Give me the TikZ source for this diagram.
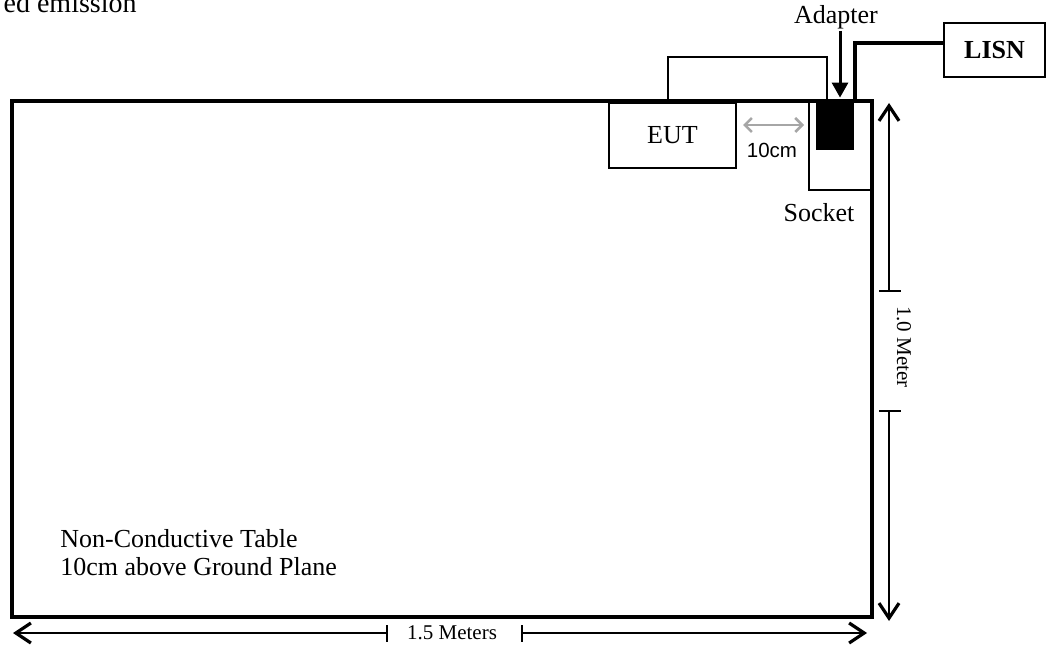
\documentclass[tikz,border=0pt]{standalone}
\usepackage{fontspec}
\setmainfont{Liberation Serif}
\newfontfamily\arialfont{Liberation Sans}
\usepackage{tikz}
\usetikzlibrary{positioning, arrows.meta}

\begin{document}
\begin{tikzpicture}[
    x=0.5pt, y=-0.5pt,
    every node/.style={inner sep=0pt, font=\fontsize{13}{14}\selectfont},
    box/.style={draw, line width=1pt},
    tbl/.style={draw, line width=1.75pt},
    cable/.style={draw, line width=1pt},
    cord/.style={draw, line width=1.75pt},
    dimline/.style={draw, line width=1pt},
    dimarrow/.style={draw, line width=1pt, -{Straight Barb[length=7.5pt,width=10pt,line width=1.6pt]}},
    adarrow/.style={draw, line width=1.5pt, -{Triangle[length=7.5pt,width=8pt]}},
    gaparrow/.style={draw, line width=1.25pt, color=gray!70, {Straight Barb[length=3.5pt,width=7pt]}-{Straight Barb[length=3.5pt,width=7pt]}},
    small/.style={font=\fontsize{10.5}{12}\selectfont}
]
\useasboundingbox (0,0) rectangle (1047,646);

% title line, cut at the top of the page
\node (title) [anchor=base east, font=\fontsize{14}{16}\selectfont] at (137,13) {ed emission};

% equipment
\node (socket) [box, minimum width=31.5pt, minimum height=44.5pt] at (840.5,145.5) {};
\node (table) [tbl, minimum width=430pt, minimum height=258pt] at (442,359) {};
\node (eut) [box, minimum width=63.5pt, minimum height=32.5pt] at (672.5,135.5) {EUT};
\node (adapter) [fill=black, minimum width=19pt, minimum height=23.5pt] at (835,126.5) {};
\node (lisn) [box, minimum width=50.5pt, minimum height=27pt, font=\fontsize{13}{14}\selectfont\bfseries] at (994.5,50) {LISN};

% cables
\draw[cable] ([xshift=-2.25pt]eut.north) -- ++(0,-45) -| ([xshift=-4pt]adapter.north);
\draw[cord] ([xshift=10pt,yshift=1pt]adapter.north) |- ([yshift=3.5pt]lisn.west);

% labels
\node (adlbl) [anchor=base] at (836,24) {Adapter};
\draw[adarrow] ([xshift=2pt,yshift=-0.5pt]adlbl.south) -- ([xshift=2.5pt,yshift=2.5pt]adapter.north);
\node (socketlbl) [anchor=base] at (819,222) {Socket};
\draw[gaparrow] ([xshift=3pt,yshift=5.25pt]eut.east) -- ([xshift=-2pt,yshift=5.25pt]eut.east -| socket.west);
\node (gaplbl) [anchor=base, font=\arialfont\fontsize{10.25}{12}\selectfont] at (772,158) {10cm};
\node (tablelbl) [anchor=north west, align=left] at (60,529) {Non-Conductive Table\\10cm above Ground Plane};

% width of the table
\coordinate (wa) at (13,633);
\coordinate (wl) at (387,633);
\coordinate (wr) at (522,633);
\coordinate (wb) at (867,633);
\node (wlbl) [small] at (452,633) {1.5 Meters};
\draw[dimarrow] (wl) -- (wa);
\draw[dimarrow] (wr) -- (wb);
\draw[dimline] ([yshift=4pt]wl) -- ([yshift=-4.5pt]wl);
\draw[dimline] ([yshift=4pt]wr) -- ([yshift=-4.5pt]wr);

% depth of the table
\coordinate (ha) at (889,103);
\coordinate (hu) at (889,291);
\coordinate (hd) at (889,411);
\coordinate (hb) at (889,621);
\node (hlbl) [small, rotate=-90] at (904,347) {1.0 Meter};
\draw[dimarrow] (hu) -- (ha);
\draw[dimarrow] (hd) -- (hb);
\draw[dimline] ([xshift=-5pt]hu) -- ([xshift=6pt]hu);
\draw[dimline] ([xshift=-5pt]hd) -- ([xshift=6pt]hd);
\end{tikzpicture}
\end{document}
